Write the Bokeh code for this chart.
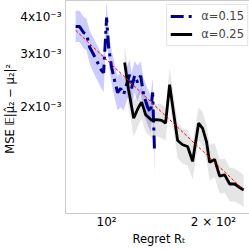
from bokeh.plotting import figure
from bokeh.models import FixedTicker, CustomJSTickFormatter, Legend, LegendItem
from bokeh.embed import file_html
from bokeh.resources import INLINE

# alpha = 0.15 series
x_a = [81.8, 83.9, 86.1, 87.8, 89.6, 91.9, 94.3, 96.8, 98.1, 100.0, 101.3, 103.3, 105.3, 107.4,
       109.5, 111.7, 113.8, 116.1, 117.6, 119.9, 122.3, 124.7, 127.1, 130.5, 133.0, 134.8, 136.5]
y_a = [3.72e-3, 3.72e-3, 3.55e-3, 3.50e-3, 3.17e-3, 3.00e-3, 2.82e-3, 2.65e-3, 2.61e-3, 3.98e-3,
       3.17e-3, 2.72e-3, 2.46e-3, 2.24e-3, 2.31e-3, 2.21e-3, 2.38e-3, 2.57e-3, 2.31e-3, 2.55e-3,
       2.42e-3, 2.55e-3, 2.21e-3, 2.00e-3, 1.92e-3, 2.24e-3, 1.41e-3]
lo_a = [3.3e-3, 3.3e-3, 3.15e-3, 3.1e-3, 2.8e-3, 2.6e-3, 2.45e-3, 2.3e-3, 2.25e-3, 3.5e-3,
        2.8e-3, 2.4e-3, 2.15e-3, 1.95e-3, 2.0e-3, 1.95e-3, 2.1e-3, 2.25e-3, 2.0e-3, 2.25e-3,
        2.1e-3, 2.25e-3, 1.9e-3, 1.75e-3, 1.65e-3, 1.95e-3, 1.2e-3]
hi_a = [4.2e-3, 4.2e-3, 4.0e-3, 3.95e-3, 3.6e-3, 3.4e-3, 3.2e-3, 3.0e-3, 3.0e-3, 4.5e-3,
        3.6e-3, 3.1e-3, 2.8e-3, 2.55e-3, 2.6e-3, 2.5e-3, 2.7e-3, 2.9e-3, 2.6e-3, 2.85e-3,
        2.75e-3, 2.85e-3, 2.5e-3, 2.3e-3, 2.2e-3, 2.5e-3, 1.65e-3]

# alpha = 0.25 series
x_b = [112.4, 115.3, 119.2, 123.0, 125.5, 128.8, 133.9, 138.3, 142.9, 146.6, 150.5, 154.4, 158.5,
       163.7, 169.1, 174.7, 181.6, 186.4, 191.3, 195.0, 201.5, 208.1, 215.0, 222.2, 229.5, 237.0, 243.3]
y_b = [2.82e-3, 2.29e-3, 1.84e-3, 2.00e-3, 2.08e-3, 1.89e-3, 1.81e-3, 1.82e-3, 1.81e-3, 1.77e-3,
       2.38e-3, 1.92e-3, 1.55e-3, 1.50e-3, 1.48e-3, 1.32e-3, 1.77e-3, 1.70e-3, 1.53e-3, 1.31e-3,
       1.34e-3, 1.18e-3, 1.19e-3, 1.11e-3, 1.11e-3, 1.08e-3, 1.06e-3]
lo_b = [2.5e-3, 2.0e-3, 1.6e-3, 1.75e-3, 1.83e-3, 1.65e-3, 1.58e-3, 1.6e-3, 1.58e-3, 1.55e-3,
        2.08e-3, 1.67e-3, 1.35e-3, 1.3e-3, 1.28e-3, 1.15e-3, 1.55e-3, 1.48e-3, 1.33e-3, 1.14e-3,
        1.17e-3, 1.03e-3, 1.04e-3, 0.97e-3, 0.97e-3, 0.95e-3, 0.93e-3]
hi_b = [3.2e-3, 2.6e-3, 2.1e-3, 2.25e-3, 2.35e-3, 2.15e-3, 2.05e-3, 2.05e-3, 2.05e-3, 2.0e-3,
        2.7e-3, 2.2e-3, 1.78e-3, 1.7e-3, 1.68e-3, 1.52e-3, 2.0e-3, 1.93e-3, 1.74e-3, 1.5e-3,
        1.52e-3, 1.34e-3, 1.35e-3, 1.26e-3, 1.25e-3, 1.22e-3, 1.19e-3]

# reference fit line
x_fit = [81.8, 243.3]
y_fit = [3.61e-3, 1.06e-3]

x_ticks = [100, 200]
x_tick_labels = ["10²", "2 × 10²"]
y_ticks = [0.002, 0.003, 0.004]
y_tick_labels = ["2x10⁻³", "3x10⁻³", "4x10⁻³"]

FONT = "DejaVu Sans"

p = figure(frame_width=187, frame_height=213, x_axis_type="log", y_axis_type="log",
           x_range=(76.6, 257.6), y_range=(8.85e-4, 4.54e-3),
           output_backend="svg", toolbar_location=None,
           min_border_left=54, min_border_right=0, min_border_top=0, min_border_bottom=28)

p.varea(x=x_a, y1=lo_a, y2=hi_a, fill_color="blue", fill_alpha=0.2)
p.varea(x=x_b, y1=lo_b, y2=hi_b, fill_color="black", fill_alpha=0.1)
ra = p.line(x_a, y_a, line_color="#00008b", line_width=3, line_dash="13 5 3 5")
rb = p.line(x_b, y_b, line_color="black", line_width=2.8)
p.line(x_fit, y_fit, line_color="red", line_width=1, line_dash="3 2")

legend = Legend(items=[LegendItem(label="α=0.15", renderers=[ra]),
                       LegendItem(label="α=0.25", renderers=[rb])],
                location="top_right", margin=4, padding=3, spacing=2,
                glyph_width=22, glyph_height=16, label_height=16, label_standoff=9,
                label_text_font=FONT, label_text_font_size="11.5px",
                border_line_color="#cccccc", border_line_width=1,
                background_fill_alpha=0.8)
p.add_layout(legend)

JS = """
const i = tv.findIndex(t => Math.abs(t - tick) / t < 1e-6);
return i >= 0 ? tl[i] : '';
"""
p.xaxis.ticker = FixedTicker(ticks=x_ticks, minor_ticks=[])
p.yaxis.ticker = FixedTicker(ticks=y_ticks, minor_ticks=[])
p.xaxis.formatter = CustomJSTickFormatter(args=dict(tv=x_ticks, tl=x_tick_labels), code=JS)
p.yaxis.formatter = CustomJSTickFormatter(args=dict(tv=y_ticks, tl=y_tick_labels), code=JS)

for ax in (p.xaxis, p.yaxis):
    ax.major_tick_line_color = None
    ax.minor_tick_line_color = None
    ax.major_tick_out = 0
    ax.major_tick_in = 0
    ax.minor_tick_out = 0
    ax.minor_tick_in = 0
    ax.axis_line_color = None
    ax.major_label_text_font = FONT
    ax.major_label_text_font_size = "12px"
    ax.major_label_text_color = "black"
    ax.axis_label_text_font = FONT
    ax.axis_label_text_font_size = "11.5px"
    ax.axis_label_text_font_style = "normal"
    ax.axis_label_text_color = "black"
    ax.major_label_standoff = 1
    ax.axis_label_standoff = 0

p.yaxis.major_label_standoff = 4
p.xaxis.axis_label = "Regret Rₜ"
p.yaxis.axis_label = "MSE  𝔼|μ̂₂ − μ₂|²"

p.xgrid.grid_line_color = None
p.ygrid.grid_line_color = None
p.outline_line_color = "#cccccc"
p.outline_line_width = 1
p.background_fill_color = "white"
p.border_fill_color = "white"

open("out.html", "w").write(file_html(p, INLINE))
